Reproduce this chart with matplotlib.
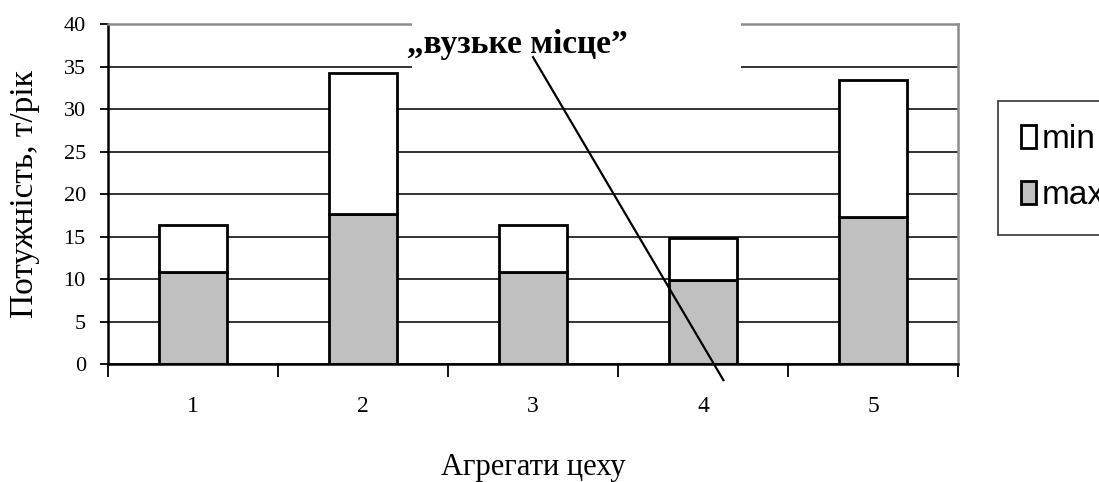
import numpy as np
import matplotlib
matplotlib.use("Agg")
import matplotlib.pyplot as plt
from matplotlib.patches import Rectangle

# Потужність агрегатів цеху, т/рік
aggregates = ["1", "2", "3", "4", "5"]
max_power = [10.8, 17.7, 10.8, 9.9, 17.3]
min_power = [5.5, 16.5, 5.5, 4.9, 16.1]

# лінія-вказівник на "вузьке місце" (в координатах даних)
pointer_x = [2.0, 3.12]
pointer_y = [36.1, -1.9]
note_text = "\u201eвузьке місце\u201d"

serif = ["Liberation Serif", "DejaVu Serif"]
sans = ["Liberation Sans", "DejaVu Sans"]

fig = plt.figure(figsize=(10.99, 4.82), dpi=100)
ax = fig.add_axes([0.0983, 0.2448, 0.7734, 0.7054])

x = np.arange(len(aggregates))
b_max = ax.bar(x, max_power, width=0.4, color="#c0c0c0", edgecolor="black",
               linewidth=2.0, zorder=2, label="max")
b_min = ax.bar(x, min_power, width=0.4, bottom=max_power, color="white",
               edgecolor="black", linewidth=2.0, zorder=2, label="min")

ax.set_xlim(-0.5, len(aggregates) - 0.5)
ax.set_ylim(0, 40)
ax.set_yticks(np.arange(0, 41, 5))
ax.yaxis.grid(True, color="#222222", linewidth=1.3)
ax.set_axisbelow(True)

# мітки категорій по центру, поділки — на межах категорій
ax.set_xticks(x)
ax.set_xticklabels(aggregates, family=serif, fontsize=17)
ax.set_xticks(np.arange(-0.5, len(aggregates)), minor=True)
ax.tick_params(axis="x", which="major", length=0, pad=23)
ax.tick_params(axis="x", which="minor", length=9, width=1.3, direction="out")
ax.tick_params(axis="y", length=6, width=1.3, direction="out", pad=10)
for lbl in ax.get_yticklabels():
    lbl.set_family(serif)
    lbl.set_fontsize(16)

for side in ["left", "bottom"]:
    ax.spines[side].set_color("black")
    ax.spines[side].set_linewidth(1.8)
for side in ["top", "right"]:
    ax.spines[side].set_color("#8c8c8c")
    ax.spines[side].set_linewidth(1.8)

ax.set_ylabel("Потужність, т/рік", family=serif, fontsize=24, labelpad=17)
ax.set_xlabel("Агрегати цеху", family=serif, fontsize=22, labelpad=26)

# напис з білим фоном поверх сітки
ax.add_patch(Rectangle((0.3576, 0.85), 0.387, 0.2, transform=ax.transAxes,
                       facecolor="white", edgecolor="none", zorder=3,
                       clip_on=False))
ax.text(1.91, 37.6, note_text, family=serif, fontweight="bold", fontsize=24,
        ha="center", va="center", zorder=4)
ax.plot(pointer_x, pointer_y, color="black", linewidth=1.6, zorder=5,
        clip_on=False)

leg = fig.legend([b_min, b_max], ["min", "max"], loc="upper left",
                 bbox_to_anchor=(0.908, 0.7905), borderaxespad=0,
                 prop={"family": sans, "size": 24},
                 handlelength=0.45, handleheight=0.65, handletextpad=0.15,
                 labelspacing=0.75, borderpad=0.7, fancybox=False,
                 framealpha=1, edgecolor="#333333")
leg.get_frame().set_linewidth(1.2)

fig.savefig("out.png", dpi=100)
